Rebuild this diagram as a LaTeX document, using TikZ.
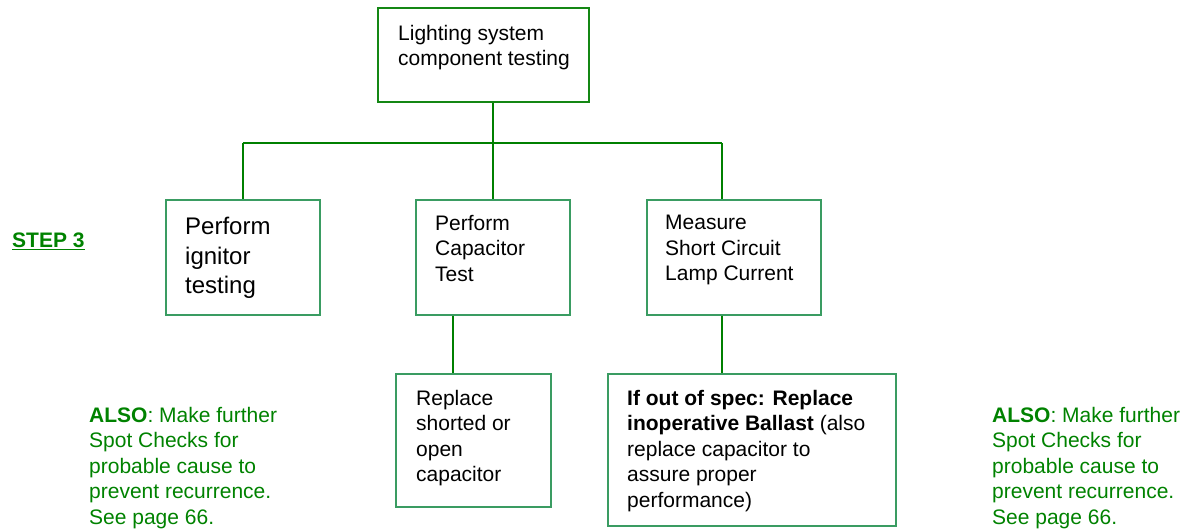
\documentclass[tikz,border=0pt]{standalone}
\usepackage{fontspec}
\setmainfont{Liberation Sans}
\definecolor{boxgreen}{RGB}{58,156,98}
\definecolor{topgreen}{RGB}{20,135,20}
\definecolor{linegreen}{RGB}{0,128,0}
\definecolor{txtgreen}{RGB}{0,130,0}
\begin{document}
\begin{tikzpicture}[x=1pt,y=-1pt,
  box/.style={draw=boxgreen,line width=1.8pt,rectangle,inner sep=0pt,anchor=north west},
  topbox/.style={box,draw=topgreen},
  txt/.style={anchor=north west,inner sep=0pt,align=left,font=\fontsize{21}{25.5}\selectfont},
  bigtxt/.style={txt,font=\fontsize{24}{29.5}\selectfont},
  gtxt/.style={txt,text=txtgreen},
  conn/.style={draw=linegreen,line width=1.8pt}]
\useasboundingbox (0,0) rectangle (1190,531);
% boxes
\node[topbox,minimum width=211pt,minimum height=94pt] (top) at (377,7) {};
\node[box,minimum width=154pt,minimum height=115pt] (b1) at (165,199) {};
\node[box,minimum width=154pt,minimum height=115pt] (b2) at (415,199) {};
\node[box,minimum width=174pt,minimum height=115pt] (b3) at (646,199) {};
\node[box,minimum width=155pt,minimum height=133pt] (b4) at (395,373) {};
\node[box,minimum width=288pt,minimum height=152pt] (b5) at (607,373) {};
% texts
\node[txt] (ttop) at (398,25) {Lighting system\\component testing};
\node[bigtxt] (t1) at (185,217) {Perform\\ignitor\\testing};
\node[txt] (t2) at (435,215) {Perform\\Capacitor\\Test};
\node[txt] (t3) at (665,215) {Measure\\Short Circuit\\Lamp Current};
\node[txt] (t4) at (416,390) {Replace\\shorted or\\open\\capacitor};
\node[txt] (t5) at (627,390) {\textbf{If out of spec: Replace}\\\textbf{inoperative Ballast} (also\\replace capacitor to\\assure proper\\performance)};
\node[gtxt] (step) at (12,233) {\underline{\textbf{STEP 3}}};
\node[gtxt] (alsoL) at (89,407) {\textbf{ALSO}: Make further\\Spot Checks for\\probable cause to\\prevent recurrence.\\See page 66.};
\node[gtxt] (alsoR) at (992,407) {\textbf{ALSO}: Make further\\Spot Checks for\\probable cause to\\prevent recurrence.\\See page 66.};
% connectors
\coordinate (bus) at (0,143);
\coordinate (c3) at (722,0);
\coordinate (c4) at (453,0);
\path[conn] (top.south -| b2.north) -- (b2.north);
\path[conn] (b1.north |- bus) -- (c3 |- bus);
\path[conn] (b1.north |- bus) -- (b1.north);
\path[conn] (c3 |- bus) -- (b3.north -| c3);
\path[conn] (b2.south -| c4) -- (b4.north -| c4);
\path[conn] (b3.south -| c3) -- (b5.north -| c3);
\end{tikzpicture}
\end{document}
